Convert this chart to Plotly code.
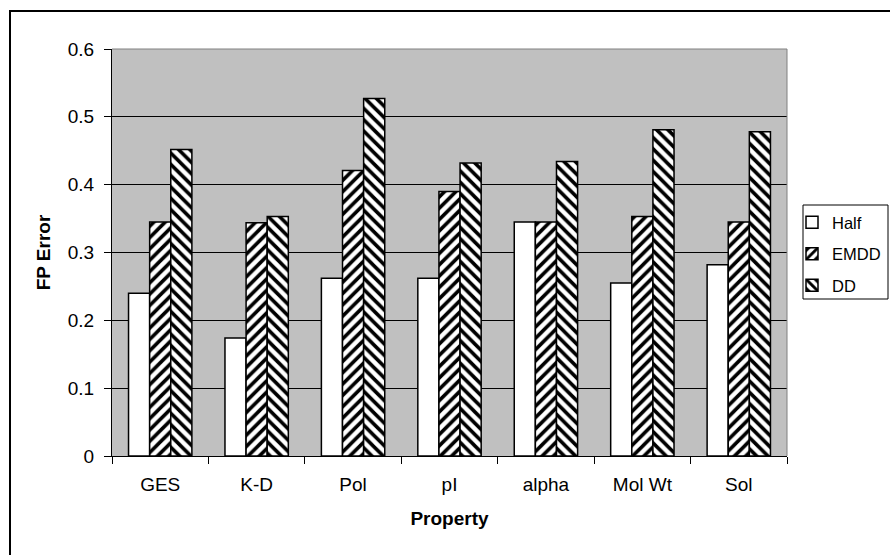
import plotly.graph_objects as go

# Categories and series values
properties = ["GES", "K-D", "Pol", "pI", "alpha", "Mol Wt", "Sol"]
half_err = [0.240, 0.174, 0.262, 0.262, 0.345, 0.255, 0.282]
emdd_err = [0.345, 0.344, 0.421, 0.390, 0.345, 0.353, 0.345]
dd_err = [0.452, 0.353, 0.527, 0.432, 0.434, 0.481, 0.478]
y_ticks = [0, 0.1, 0.2, 0.3, 0.4, 0.5, 0.6]
y_tick_text = ["0", "0.1", "0.2", "0.3", "0.4", "0.5", "0.6"]

FONT = "Liberation Sans, Arial, sans-serif"
W, H = 890, 555
L, R, T, B = 112, 787, 49, 456  # plot area in pixels


def px_x(p):
    return (p - L) / (R - L)


def px_y(p):
    return (B - p) / (B - T)


outline = dict(color="black", width=1.5)

fig = go.Figure()
fig.add_trace(go.Bar(
    name="Half", x=properties, y=half_err, legendgroup="a",
    marker=dict(color="white", line=outline),
))
fig.add_trace(go.Bar(
    name="EMDD", x=properties, y=emdd_err, legendgroup="b",
    marker=dict(color="white", line=outline,
                pattern=dict(shape="/", fgcolor="black", bgcolor="white",
                             size=8, solidity=0.45, fillmode="replace")),
))
fig.add_trace(go.Bar(
    name="DD", x=properties, y=dd_err, legendgroup="c",
    marker=dict(color="white", line=outline,
                pattern=dict(shape="\\", fgcolor="black", bgcolor="white",
                             size=8, solidity=0.45, fillmode="replace")),
))

fig.update_layout(
    width=W, height=H,
    margin=dict(l=L, r=W - R, t=T, b=H - B, autoexpand=False),
    paper_bgcolor="white",
    plot_bgcolor="#C0C0C0",
    barmode="group",
    bargap=0.343,
    bargroupgap=0,
    font=dict(family=FONT, size=19, color="black"),
    showlegend=True,
    legend=dict(
        x=px_x(792), y=px_y(205), xanchor="left", yanchor="top",
        bgcolor="rgba(0,0,0,0)", borderwidth=0,
        font=dict(family=FONT, size=16.5, color="black"),
        tracegroupgap=7, itemwidth=30,
    ),
    xaxis=dict(
        showgrid=False, showline=True, linecolor="black", linewidth=1,
        ticks="outside", ticklen=7, tickcolor="black", tickson="boundaries",
        tickfont=dict(family=FONT, size=19), ticklabelstandoff=11,
        title=dict(text="<b>Property</b>", standoff=17,
                   font=dict(family=FONT, size=19)),
    ),
    yaxis=dict(
        range=[0, 0.6], tickvals=y_ticks, ticktext=y_tick_text,
        showgrid=True, gridcolor="black", gridwidth=1,
        zeroline=False, showline=True, linecolor="black", linewidth=1,
        ticks="outside", ticklen=7, tickcolor="black",
        tickfont=dict(family=FONT, size=19), ticklabelstandoff=6,
        title=dict(text="<b>FP Error</b>", standoff=12,
                   font=dict(family=FONT, size=19)),
    ),
    shapes=[
        # grey edge on the top and right of the plot area
        dict(type="line", xref="paper", yref="paper", x0=0, x1=1, y0=1, y1=1,
             line=dict(color="#808080", width=1)),
        dict(type="line", xref="paper", yref="paper", x0=1, x1=1, y0=0, y1=1,
             line=dict(color="#808080", width=1)),
        # legend box
        dict(type="rect", xref="paper", yref="paper",
             x0=px_x(803), x1=px_x(888), y0=px_y(299), y1=px_y(205),
             line=dict(color="black", width=1), fillcolor="white",
             layer="below"),
        # chart frame
        dict(type="rect", xref="paper", yref="paper",
             x0=px_x(10), x1=px_x(893), y0=px_y(560), y1=px_y(11),
             line=dict(color="black", width=2), layer="below"),
    ],
)

fig.write_html("out.html")
